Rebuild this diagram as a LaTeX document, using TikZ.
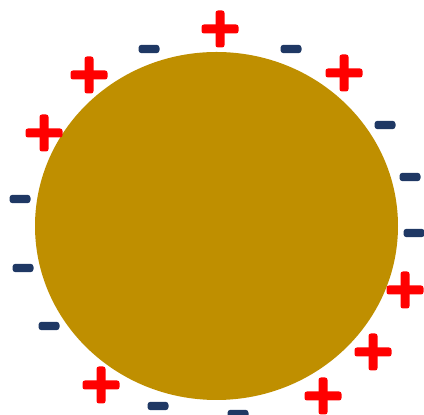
\documentclass[tikz,border=0pt]{standalone}
\usepackage{tikz}
\definecolor{gold}{HTML}{BF8F00}
\definecolor{plusred}{HTML}{FF0000}
\definecolor{minusnavy}{HTML}{1F3864}
\tikzset{
  body/.style={fill=gold,draw=none},
  plusbar/.style={fill=plusred,rounded corners=1.2pt},
  minusbar/.style={fill=minusnavy,rounded corners=1.5pt}
}
\begin{document}
\begin{tikzpicture}[x=0.5pt,y=-0.5pt]
  \useasboundingbox (0,0) rectangle (424,415);
  % charged sphere
  \path[body] (216.5,226) ellipse [x radius=181.5,y radius=174];
  % positive charges
  \foreach \px/\py in {220/29,89/75,44/133,344/73,405/290,373/352,323/396,101/385} {
    \fill[plusbar] (\px-18.5,\py-4.5) rectangle (\px+18.5,\py+4.5);
    \fill[plusbar] (\px-4.5,\py-18.5) rectangle (\px+4.5,\py+18.5);
  }
  % negative charges
  \foreach \mx/\my in {149/49,291/49,385/125,410/177,20/199,414/233,23/268,49/326,158/406,238/414} {
    \fill[minusbar] (\mx-10.5,\my-4.2) rectangle (\mx+10.5,\my+4.2);
  }
\end{tikzpicture}
\end{document}
